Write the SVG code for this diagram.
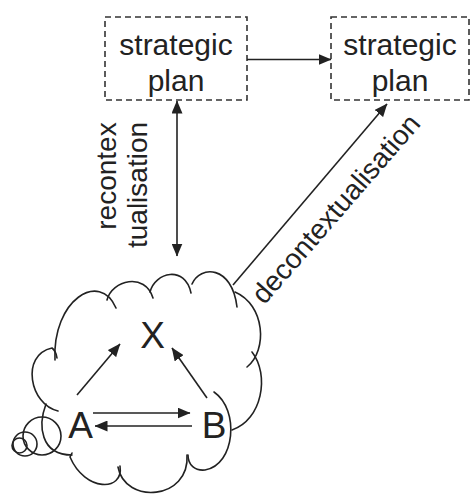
<svg xmlns="http://www.w3.org/2000/svg" width="472" height="496" viewBox="0 0 472 496">
  <defs>
    <marker id="ah" viewBox="0 0 13 11" refX="12.5" refY="5.5" markerWidth="13" markerHeight="11" markerUnits="userSpaceOnUse" orient="auto-start-reverse">
      <path d="M0,0 L13,5.5 L0,11 Z" fill="#222"/>
    </marker>
    <style>
      .box { fill: none; stroke: #333; stroke-width: 1.6; stroke-dasharray: 6 4; }
      .lbl { font-family: "Liberation Sans", Arial, sans-serif; fill: #222; text-anchor: middle; }
      .big { font-size: 30px; }
      .side { font-size: 28px; }
      .node { font-size: 37px; }
      .edge { fill: none; stroke: #222; stroke-width: 1.6; marker-end: url(#ah); }
      .both { marker-start: url(#ah); }
      .lobe { fill: none; stroke: #222; stroke-width: 1.6; stroke-linecap: round; }
    </style>
  </defs>

  <rect width="472" height="496" fill="#fff"/>

  <!-- current strategic plan -->
  <g id="plan-current">
    <rect class="box" x="105" y="17" width="142" height="83"/>
    <text class="lbl big" x="176" y="55">strategic</text>
    <text class="lbl big" x="176" y="91">plan</text>
  </g>

  <!-- next strategic plan -->
  <g id="plan-next">
    <rect class="box" x="331" y="17" width="138" height="83"/>
    <text class="lbl big" x="400" y="55">strategic</text>
    <text class="lbl big" x="400" y="91">plan</text>
  </g>

  <!-- practice cloud with its small bubbles -->
  <g id="practice-cloud">
    <path class="lobe" d="M58,411 C30,405 20,355 52,348 Q56,351 57,358"/>
    <path class="lobe" d="M55,360 C52,300 100,270 116,308"/>
    <path class="lobe" d="M107,300 C112,280 145,272 153,298"/>
    <path class="lobe" d="M150,292 C155,272 185,265 191,293"/>
    <path class="lobe" d="M192,284 C200,265 232,265 237,307"/>
    <path class="lobe" d="M235,292 C265,305 268,350 247,367"/>
    <path class="lobe" d="M252,352 C270,375 262,420 232,430"/>
    <path class="lobe" d="M214,392 C240,410 235,465 205,470 C195,471 188,465 188,455"/>
    <path class="lobe" d="M187,455 C190,500 125,505 118,467"/>
    <path class="lobe" d="M120,466 C124,492 85,492 70,457 L72,453"/>
    <path class="lobe" d="M46,404 C38,425 40,455 72,455"/>
    <circle class="lobe" cx="42" cy="436" r="19"/>
    <circle class="lobe" cx="25" cy="444" r="12"/>
    <circle class="lobe" cx="19.5" cy="445.5" r="7.5"/>
  </g>

  <g id="node-X"><text class="lbl node" x="152.5" y="348">X</text></g>
  <g id="node-A"><text class="lbl node" x="80.5" y="438">A</text></g>
  <g id="node-B"><text class="lbl node" x="214" y="438">B</text></g>

  <!-- connectors -->
  <g id="connectors">
    <line class="edge" x1="247" y1="59.5" x2="331" y2="59.5"/>
    <line class="edge both" x1="177" y1="101" x2="177" y2="256"/>
    <line class="edge" x1="233" y1="285" x2="387" y2="104"/>
    <line class="edge" x1="77" y1="395" x2="120" y2="344"/>
    <line class="edge" x1="207" y1="398" x2="172" y2="348"/>
    <line class="edge" x1="93" y1="413" x2="190" y2="413"/>
    <line class="edge" x1="192" y1="426" x2="95" y2="426"/>
  </g>

  <!-- connector labels -->
  <g id="connector-labels">
    <text class="lbl side" transform="translate(116,176) rotate(-90)">recontex</text>
    <text class="lbl side" transform="translate(147,185) rotate(-90)">tualisation</text>
    <text class="lbl side" transform="translate(343,215) rotate(-49)">decontextualisation</text>
  </g>
</svg>
